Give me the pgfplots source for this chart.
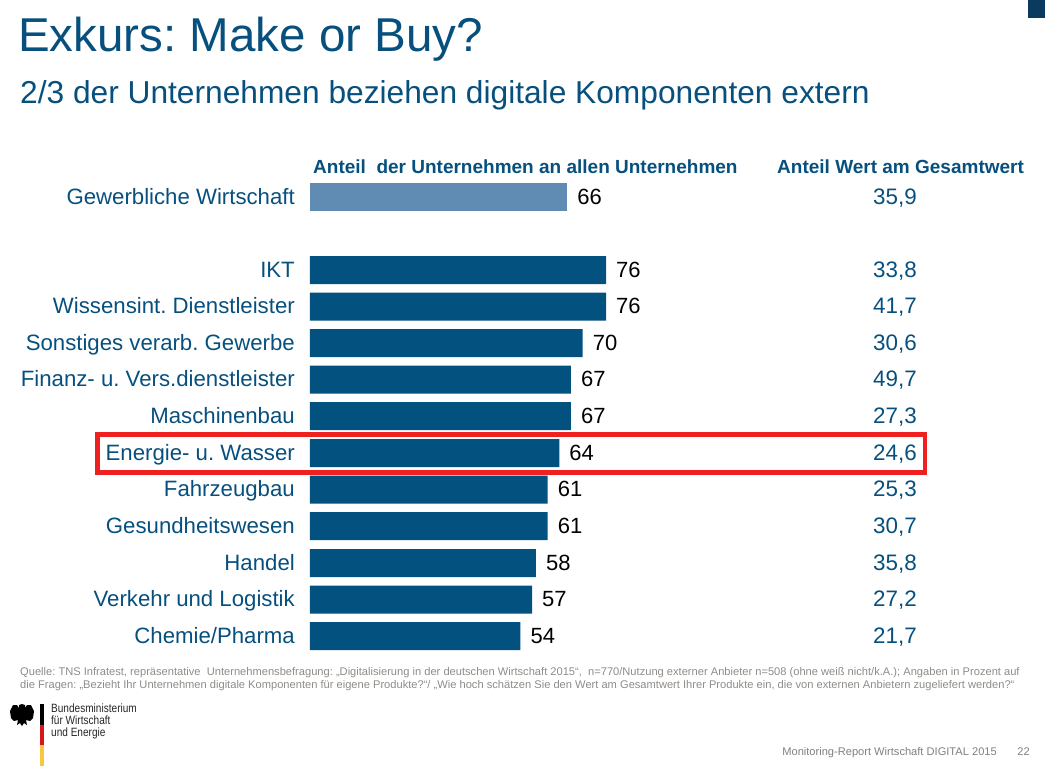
\documentclass[border=0pt]{standalone}
\usepackage{pgfplots}
\pgfplotsset{compat=1.18}
\usepackage{fontspec}
\setmainfont{Liberation Sans}
\frenchspacing
\definecolor{barblue}{HTML}{03517F}
\definecolor{barlight}{HTML}{608BB2}
\definecolor{headblue}{HTML}{07507E}
\definecolor{srcgrey}{HTML}{8E8B88}
\definecolor{footgrey}{HTML}{808080}
\definecolor{hlred}{HTML}{EE2020}
\definecolor{corner}{HTML}{0A3A5E}
\definecolor{flagred}{HTML}{D8141C}
\definecolor{flaggold}{HTML}{F9C73B}
\newcommand{\fs}[1]{\fontsize{#1}{#1}\selectfont}
\begin{document}
\begin{tikzpicture}[x=1pt,y=-1pt]
\path[use as bounding box] (0,0) rectangle (1045,779);
% highlight frame
\draw[hlred,line width=4.6pt] (97.7,434.5) rectangle (925,472.5);
\begin{axis}[
  at={(310pt,-779pt)}, anchor=south west,
  scale only axis, width=735pt, height=779pt,
  xmin=0, xmax=188.7, ymin=0, ymax=779, y dir=reverse,
  clip=false, axis line style={draw=none},
  major tick length=0pt, xtick=\empty,
  ytick={197,270,306.5,343,379.5,416,453,489.5,526,563,599.5,636},
  yticklabels={Gewerbliche Wirtschaft,IKT,Wissensint. Dienstleister,Sonstiges verarb. Gewerbe,Finanz- u. Vers.dienstleister,Maschinenbau,Energie- u. Wasser,Fahrzeugbau,Gesundheitswesen,Handel,Verkehr und Logistik,Chemie/Pharma},
  yticklabel style={font=\fs{22.2}, text=headblue, inner sep=0pt, xshift=-15pt, text height=18pt, text depth=4pt},
]
\addplot[xbar, bar width=28pt, fill=barlight, draw=none, forget plot,
  nodes near coords, point meta=x,
  every node near coord/.style={font=\fs{22}, text=black, inner sep=0pt, xshift=10pt, anchor=west, text height=18pt, text depth=4pt, /pgf/number format/assume math mode=true}]
  coordinates {(66,197)};
\addplot[xbar, bar width=28pt, fill=barblue, draw=none, forget plot,
  nodes near coords, point meta=x,
  every node near coord/.style={font=\fs{22}, text=black, inner sep=0pt, xshift=10pt, anchor=west, text height=18pt, text depth=4pt, /pgf/number format/assume math mode=true}]
  coordinates {(76,270) (76,306.5) (70,343) (67,379.5) (67,416) (64,453) (61,489.5) (61,526) (58,563) (57,599.5) (54,636)};
% right hand column
\addplot[draw=none, mark=none, forget plot, point meta=explicit,
  nodes near coords,
  every node near coord/.style={font=\fs{22.4}, text=headblue, inner sep=0pt, anchor=center, text height=18pt, text depth=4pt,
    /pgf/number format/.cd, assume math mode=true, use comma, fixed, fixed zerofill, precision=1}]
  coordinates {(150.2,197)[35.9] (150.2,270)[33.8] (150.2,306.5)[41.7] (150.2,343)[30.6] (150.2,379.5)[49.7] (150.2,416)[27.3] (150.2,453)[24.6] (150.2,489.5)[25.3] (150.2,526)[30.7] (150.2,563)[35.8] (150.2,599.5)[27.2] (150.2,636)[21.7]};
\end{axis}
% titles
\node[anchor=base west,inner sep=0pt,text=headblue,font=\fs{47.5}] at (18,51) {Exkurs: Make or Buy?};
\node[anchor=base west,inner sep=0pt,text=headblue,font=\fs{31.7}] at (20,103) {2/3 der Unternehmen beziehen digitale Komponenten extern};
\node[anchor=base west,inner sep=0pt,text=headblue,font=\fs{19}\bfseries] at (313,173) {Anteil\ \ der Unternehmen an allen Unternehmen};
\node[anchor=base west,inner sep=0pt,text=headblue,font=\fs{19}\bfseries] at (777,173) {Anteil Wert am Gesamtwert};
% source
\node[anchor=base west,inner sep=0pt,text=srcgrey,font=\fs{11.12}] at (20,675) {Quelle: TNS Infratest, repräsentative\ \ Unternehmensbefragung: „Digitalisierung in der deutschen Wirtschaft 2015“,\ \ n=770/Nutzung externer Anbieter n=508 (ohne weiß nicht/k.A.); Angaben in Prozent auf};
\node[anchor=base west,inner sep=0pt,text=srcgrey,font=\fs{11.12}] at (20,688) {die Fragen: „Bezieht Ihr Unternehmen digitale Komponenten für eigene Produkte?“/ „Wie hoch schätzen Sie den Wert am Gesamtwert Ihrer Produkte ein, die von externen Anbietern zugeliefert werden?“};
% footer
\node[anchor=base east,inner sep=0pt,text=footgrey,font=\fs{11.1}] at (997,755) {Monitoring-Report Wirtschaft DIGITAL 2015};
\node[anchor=base east,inner sep=0pt,text=footgrey,font=\fs{11.1}] at (1030,755) {22};
% logo
\fill[black] (40,704) rectangle (44.3,725);
\fill[flagred] (40,725) rectangle (44.3,745);
\fill[flaggold] (40,745) rectangle (44.3,766);
\fill[black] (22,704) -- (25,705) -- (25,708) -- (27,705) -- (31,705) -- (34,711) -- (33,718) -- (30,721) -- (26,720) -- (27,725) -- (24,723) -- (22,726) -- (20,723) -- (17,725) -- (18,720) -- (14,721) -- (11,718) -- (10,711) -- (13,705) -- (17,705) -- (19,708) -- (19,705) -- cycle;
\begin{scope}[font=\fs{12},text=black!85]
\node[anchor=base west,inner sep=0pt,xscale=.84] at (51,712) {Bundesministerium};
\node[anchor=base west,inner sep=0pt,xscale=.84] at (51,724) {für Wirtschaft};
\node[anchor=base west,inner sep=0pt,xscale=.84] at (51,736) {und Energie};
\end{scope}
% corner block
\fill[corner] (1028,0) rectangle (1045,18);
\end{tikzpicture}
\end{document}
